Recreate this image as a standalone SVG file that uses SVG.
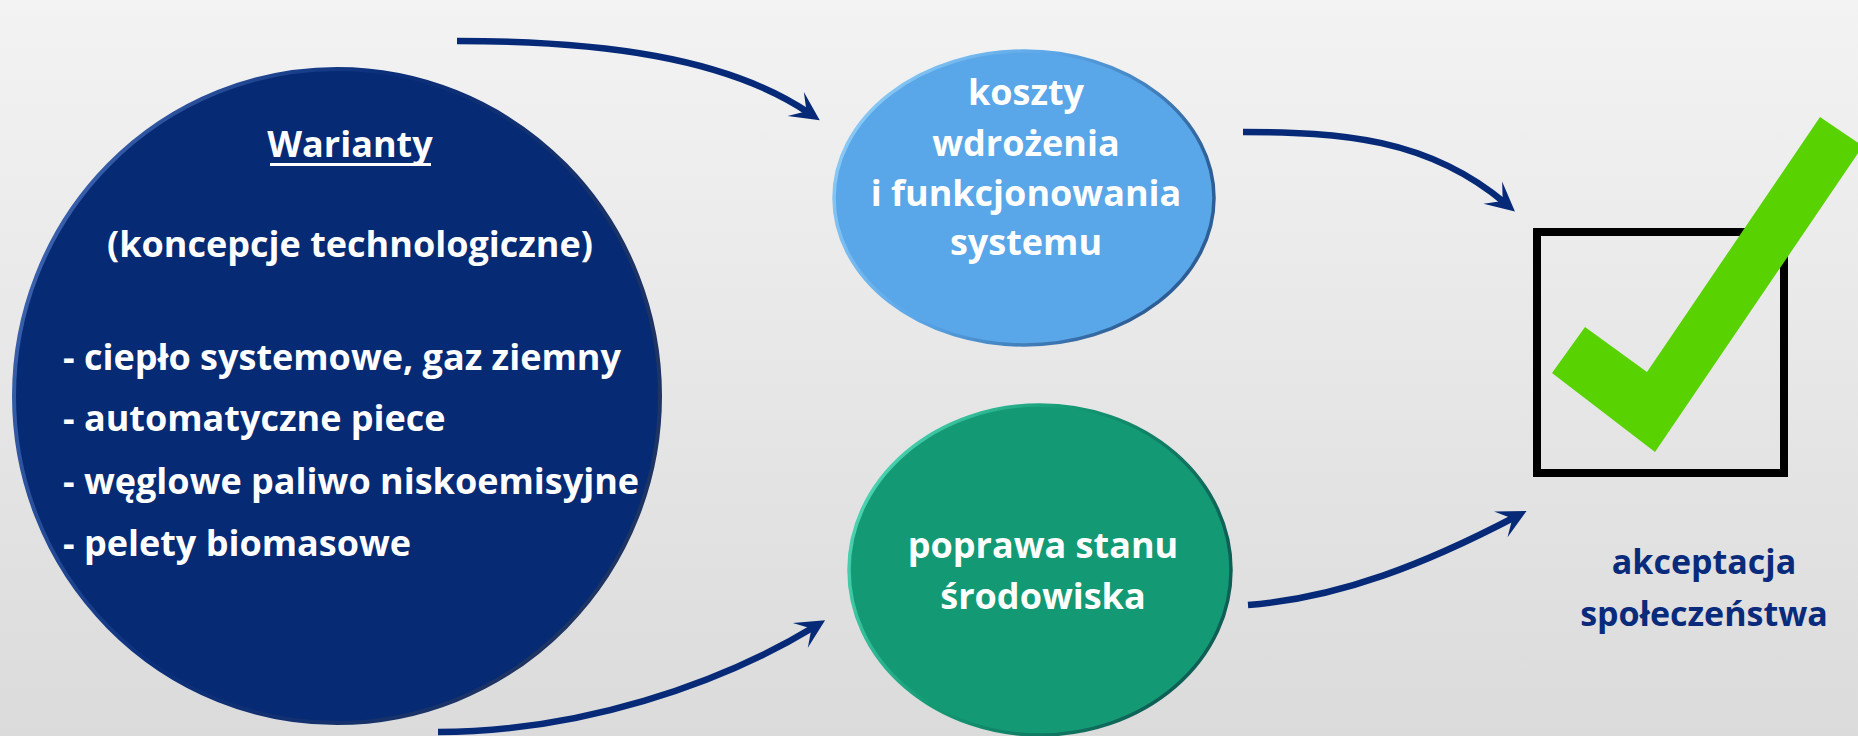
<svg xmlns="http://www.w3.org/2000/svg" width="1858" height="736" viewBox="0 0 1858 736">
  <defs>
    <linearGradient id="bg" x1="0" y1="0" x2="0" y2="1">
      <stop offset="0" stop-color="#F3F3F3"/>
      <stop offset="1" stop-color="#DBDBDB"/>
    </linearGradient>
    <linearGradient id="rimNavy" x1="0" y1="0" x2="1" y2="0.4">
      <stop offset="0" stop-color="#4A72BE"/>
      <stop offset="0.5" stop-color="#0A2E7A"/>
      <stop offset="1" stop-color="#1E3462"/>
    </linearGradient>
    <linearGradient id="rimBlue" x1="0" y1="0" x2="1" y2="0.4">
      <stop offset="0" stop-color="#9AD4F8"/>
      <stop offset="0.5" stop-color="#5AA6E8"/>
      <stop offset="1" stop-color="#2D5E95"/>
    </linearGradient>
    <linearGradient id="rimGreen" x1="0" y1="0" x2="1" y2="0.4">
      <stop offset="0" stop-color="#5FE6C6"/>
      <stop offset="0.5" stop-color="#139A74"/>
      <stop offset="1" stop-color="#0E5F55"/>
    </linearGradient>
    <marker id="head" markerUnits="userSpaceOnUse" markerWidth="40" markerHeight="40" viewBox="-20 -20 40 40" refX="0" refY="0" orient="auto">
      <path d="M-16,-14.5 L13,0 L-16,14.5 L-3,0 Z" fill="#062A78"/>
    </marker>
    <style>
      .t { font-family: "Open Sans", "Liberation Sans", sans-serif; font-weight: bold; font-size: 36px; }
      .w { fill: #FFFFFF; }
      .c { text-anchor: middle; }
      .navy { fill: #0A2B7C; }
      .conn { fill: none; stroke: #062A78; stroke-width: 6.5; marker-end: url(#head); }
    </style>
  </defs>

  <rect x="0" y="0" width="1858" height="736" fill="url(#bg)"/>

  <g id="warianty">
    <ellipse cx="337" cy="396" rx="323" ry="327" fill="#062A74" stroke="url(#rimNavy)" stroke-width="4"/>
    <text class="t w c" x="350" y="157">Warianty</text>
    <rect x="270" y="163" width="161" height="3" fill="#FFFFFF"/>
    <text class="t w c" x="350" y="257">(koncepcje technologiczne)</text>
    <text class="t w" x="63" y="370">- ciepło systemowe, gaz ziemny</text>
    <text class="t w" x="63" y="431">- automatyczne piece</text>
    <text class="t w" x="63" y="494">- węglowe paliwo niskoemisyjne</text>
    <text class="t w" x="63" y="556">- pelety biomasowe</text>
  </g>

  <g id="koszty">
    <ellipse cx="1024" cy="198" rx="190" ry="147" fill="#59A6E8" stroke="url(#rimBlue)" stroke-width="3.5"/>
    <text class="t w c" x="1026" y="105">koszty</text>
    <text class="t w c" x="1026" y="156">wdrożenia</text>
    <text class="t w c" x="1026" y="206">i funkcjonowania</text>
    <text class="t w c" x="1026" y="255">systemu</text>
  </g>

  <g id="srodowisko">
    <ellipse cx="1040" cy="570" rx="191" ry="165" fill="#139A74" stroke="url(#rimGreen)" stroke-width="3.5"/>
    <text class="t w c" x="1043" y="558">poprawa stanu</text>
    <text class="t w c" x="1043" y="609">środowiska</text>
  </g>

  <g id="akceptacja">
    <rect x="1537" y="232" width="247" height="241" fill="none" stroke="#000000" stroke-width="8"/>
    <polygon points="1820,117 1863,146 1655,452 1552,373 1585,327 1647,372" fill="#58D200"/>
    <text class="t navy c" x="1704" y="574" style="font-size:34px">akceptacja</text>
    <text class="t navy c" x="1704" y="626" style="font-size:34px">społeczeństwa</text>
  </g>

  <g id="connectors">
    <path class="conn" d="M457,41 C600,41 726,57 809,113"/>
    <path class="conn" d="M1243,132 C1340,132 1428,138 1505,203"/>
    <path class="conn" d="M438,732 C580,732 720,684 814,627"/>
    <path class="conn" d="M1248,605 C1340,598 1427,563 1515,517"/>
  </g>
</svg>
